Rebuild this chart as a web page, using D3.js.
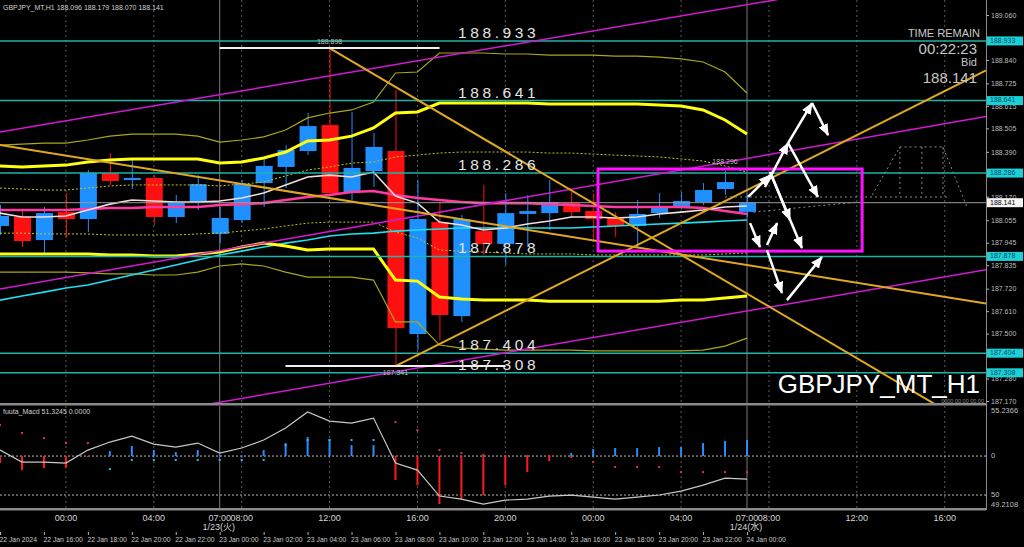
<!DOCTYPE html>
<html><head><meta charset="utf-8">
<script src="https://cdn.jsdelivr.net/npm/d3@7/dist/d3.min.js"></script>
<style>
html,body{margin:0;padding:0;background:#000;overflow:hidden;}
svg{display:block;}
text{font-family:"Liberation Sans","DejaVu Sans","Noto Sans CJK JP",sans-serif;}
</style></head><body>
<svg id="chart" width="1024" height="547"></svg>
<script>
// ---------------- DATA ----------------
const candleTimes = ["2024-01-22 14:00","2024-01-22 15:00","2024-01-22 16:00","2024-01-22 17:00","2024-01-22 18:00","2024-01-22 19:00","2024-01-22 20:00","2024-01-22 21:00","2024-01-22 22:00","2024-01-22 23:00",
"2024-01-23 00:00","2024-01-23 01:00","2024-01-23 02:00","2024-01-23 03:00","2024-01-23 04:00","2024-01-23 05:00","2024-01-23 06:00","2024-01-23 07:00","2024-01-23 08:00","2024-01-23 09:00","2024-01-23 10:00","2024-01-23 11:00",
"2024-01-23 12:00","2024-01-23 13:00","2024-01-23 14:00","2024-01-23 15:00","2024-01-23 16:00","2024-01-23 17:00","2024-01-23 18:00","2024-01-23 19:00","2024-01-23 20:00","2024-01-23 21:00","2024-01-23 22:00","2024-01-23 23:00","2024-01-24 00:00"];
const openP  = [188.027,188.071,187.958,188.095,188.061,188.286,188.252,188.262,188.071,188.144,187.988,188.056,188.237,188.316,188.394,188.521,188.188,188.296,188.394,187.498,188.046,187.586,188.002,187.939,188.086,188.090,188.139,188.100,188.066,188.027,188.090,188.120,188.144,188.208,188.096];
const highP  = [188.130,188.110,188.120,188.188,188.301,188.384,188.350,188.276,188.179,188.276,188.120,188.252,188.365,188.423,188.580,188.898,188.585,188.482,188.693,188.252,188.144,188.081,188.228,188.188,188.179,188.252,188.193,188.188,188.095,188.154,188.188,188.193,188.237,188.296,188.179];
const lowP   = [187.983,187.924,187.895,187.968,187.997,188.228,188.208,188.032,188.041,188.105,187.943,188.041,188.120,188.213,188.374,188.179,188.154,188.218,187.341,187.420,187.468,187.557,187.885,187.836,187.924,188.007,188.066,187.958,187.973,187.924,188.066,188.110,188.130,188.179,188.070];
const closeP = [188.076,187.953,188.090,188.061,188.286,188.247,188.262,188.071,188.144,188.232,188.066,188.232,188.321,188.399,188.516,188.188,188.311,188.414,187.527,188.061,187.591,188.061,187.939,188.090,188.100,188.144,188.095,188.061,188.027,188.086,188.120,188.149,188.203,188.242,188.141];

const bbUpper2 = [188.321,188.316,188.321,188.325,188.340,188.350,188.355,188.355,188.355,188.355,188.335,188.340,188.360,188.389,188.443,188.448,188.467,188.507,188.580,188.585,188.629,188.629,188.629,188.629,188.629,188.624,188.624,188.624,188.624,188.624,188.619,188.614,188.595,188.546,188.477];
const bbLower2 = [187.890,187.890,187.890,187.890,187.890,187.885,187.885,187.880,187.880,187.890,187.899,187.924,187.943,187.929,187.909,187.914,187.914,187.914,187.762,187.757,187.679,187.669,187.664,187.664,187.664,187.659,187.659,187.659,187.659,187.659,187.659,187.664,187.664,187.674,187.684];
const bbUpper3 = [188.423,188.428,188.433,188.433,188.448,188.467,188.477,188.477,188.477,188.467,188.438,188.448,188.463,188.497,188.556,188.580,188.595,188.634,188.776,188.781,188.874,188.874,188.874,188.869,188.869,188.864,188.864,188.864,188.859,188.859,188.854,188.845,188.830,188.781,188.678];
const bbLower3 = [187.801,187.801,187.801,187.801,187.797,187.792,187.792,187.787,187.787,187.801,187.831,187.841,187.831,187.801,187.777,187.777,187.777,187.762,187.557,187.557,187.444,187.429,187.424,187.419,187.419,187.419,187.419,187.415,187.415,187.415,187.415,187.415,187.419,187.439,187.478];
const bbUpper1 = [188.213,188.208,188.203,188.203,188.213,188.223,188.228,188.228,188.228,188.228,188.223,188.232,188.242,188.272,188.301,188.316,188.335,188.340,188.365,188.374,188.384,188.389,188.389,188.389,188.389,188.384,188.384,188.379,188.374,188.370,188.365,188.355,188.345,188.321,188.291];
const bbLower1 = [187.992,187.992,187.988,187.988,187.988,187.983,187.983,187.983,187.983,187.988,187.992,188.002,188.012,188.027,188.041,188.046,188.046,188.046,187.997,187.968,187.909,187.904,187.899,187.895,187.890,187.890,187.890,187.885,187.885,187.885,187.885,187.885,187.885,187.890,187.895];
const maFast = [188.090,188.071,188.071,188.076,188.105,188.134,188.154,188.149,188.144,188.144,188.149,188.164,188.188,188.228,188.267,188.276,188.267,188.291,188.174,188.139,188.046,188.032,188.007,188.017,188.037,188.051,188.071,188.071,188.066,188.071,188.086,188.095,188.105,188.120,188.125];
const maMid  = [188.105,188.105,188.105,188.105,188.110,188.115,188.115,188.120,188.120,188.120,188.130,188.134,188.139,188.154,188.169,188.179,188.193,188.198,188.179,188.164,188.154,188.144,188.139,188.139,188.139,188.134,188.130,188.125,188.120,188.120,188.120,188.120,188.115,188.100,188.086];
const maSlow = [187.664,187.684,187.703,187.723,187.738,187.762,187.787,187.811,187.836,187.860,187.885,187.904,187.924,187.943,187.958,187.978,187.988,187.992,188.002,188.007,188.012,188.017,188.017,188.017,188.017,188.017,188.017,188.022,188.027,188.032,188.037,188.041,188.046,188.051,188.056];

const levelPrices = [188.933, 188.641, 188.286, 187.878, 187.404, 187.308];
const bidPrice = 188.141;
const priceTicks = [189.060,188.950,188.840,188.725,188.615,188.505,188.390,188.280,188.170,188.055,187.945,187.835,187.720,187.610,187.500,187.390,187.280,187.170];

// trend lines: [hour index, price] anchors
const goldStart = [[0,188.423],[15,188.898],[18,187.341]];
const goldEnd   = [[33,187.853],[33,187.759],[33,188.149]];
const magStart  = [[0,188.487],[0,187.718],[15,187.257]];
const magEnd    = [[33,189.092],[33,188.339],[33,187.592]];
const boxHours  = [27.22, 39.24];
const boxPrices = [188.306, 187.904];
const arrowFrom = [[34.05,188.169],[34.82,188.218],[35.87,188.433],[36.96,188.629],[35.87,188.433],[35.05,188.291],[35.05,188.291],[34.14,188.041],[34.91,187.934],[34.91,187.909],[35.82,187.664]];
const arrowTo   = [[35.05,188.276],[35.87,188.433],[36.96,188.629],[37.69,188.472],[37.23,188.169],[35.96,188.056],[36.50,187.919],[34.59,187.924],[35.37,188.041],[35.59,187.699],[37.41,187.875]];
const projLines = [
  [[39.7,188.179],[40.96,188.414],[42.92,188.414],[44.01,188.120]],
  [[40.96,188.414],[40.96,188.169]],
  [[41.96,188.414],[41.96,188.169]],
  [[42.92,188.414],[42.92,188.169]],
  [[33.0,188.169],[43.1,188.169]],
  [[34.3,188.095],[39.0,188.144]]
];

// MACD sub window
const macdMax = 55.2366, macdMin = -49.2108;
const macdHist = [-6.9,-13.8,-11.8,-11.8,-0.5,4.9,9.9,5.9,3.9,5.9,1.0,0.5,5.9,12.8,18.7,16.8,10.8,10.8,-23.6,-28.6,-47.3,-42.4,-38.4,-28.6,-15.8,-4.9,3.0,6.9,7.9,7.9,8.9,8.9,12.8,14.8,15.8];
const macdDots = [30.5,22.7,17.7,12.8,12.8,-12.8,-3.9,-3.9,-3.9,-3.9,-3.9,-3.9,-3.9,10.8,15.8,15.8,15.8,15.8,33.5,25.6,5.9,3.0,1.0,0,0,0,-1.0,-5.9,-10.8,-10.8,-10.8,-15.8,-15.8,-15.8,-15.8];
const dotSide  = ["r","r","r","r","r","b","b","b","b","b","b","b","b","b","b","b","b","b","r","r","r","r","r","r","r","r","r","r","r","r","r","r","r","r","r"];
const macdLine = [5.9,-5.9,-5.9,-6.9,5.9,13.8,19.7,11.8,8.9,12.8,3.0,7.9,15.8,27.6,43.4,34.5,32.5,37.4,-6.9,-13.8,-39.4,-42.4,-47.3,-43.4,-42.4,-39.4,-38.4,-40.4,-42.4,-40.4,-38.4,-34.5,-28.6,-21.7,-22.7];
const macdLevels = [0, -38.4];
const macdLevelLabels = ["0", "50"];

// time axes
const serverTicks = ["2024-01-22 14:00","2024-01-22 16:00","2024-01-22 18:00","2024-01-22 20:00","2024-01-22 22:00","2024-01-23 00:00","2024-01-23 02:00","2024-01-23 04:00","2024-01-23 06:00","2024-01-23 08:00","2024-01-23 10:00","2024-01-23 12:00","2024-01-23 14:00","2024-01-23 16:00","2024-01-23 18:00","2024-01-23 20:00","2024-01-23 22:00","2024-01-24 00:00"];
const jstTicks  = ["2024-01-22 17:00","2024-01-22 21:00","2024-01-23 00:00","2024-01-23 01:00","2024-01-23 05:00","2024-01-23 09:00","2024-01-23 13:00","2024-01-23 17:00","2024-01-23 21:00","2024-01-24 00:00","2024-01-24 01:00","2024-01-24 05:00","2024-01-24 09:00"];
const jstLabels = ["00:00","04:00","07:00","08:00","12:00","16:00","20:00","00:00","04:00","07:00","08:00","12:00","16:00"];
const dateTicks = ["2024-01-23 00:00","2024-01-24 00:00"];
const dateLabels = ["1/23(火)","1/24(水)"];

// ---------------- DRAW ----------------
const W = 1024, H = 547, PW = 986;
const MAIN_TOP = 0, MAIN_BOT = 403, SUB_TOP = 406, SUB_BOT = 508;
const svg = d3.select("#chart");
svg.append("rect").attr("width", W).attr("height", H).attr("fill", "#000");

const parse = d3.utcParse("%Y-%m-%d %H:%M");
const t0 = parse(candleTimes[0]);
const hr = s => (parse(s) - t0) / 3600000;
const x = d3.scaleLinear().domain([0, 34]).range([0, 747]);
const y = d3.scaleLinear().domain([187.170, 189.060]).range([401, 15]);
const ym = d3.scaleLinear().domain([macdMin, macdMax]).range([506, 400]);
const xMaxIdx = x.invert(PW);

const defs = svg.append("defs");
defs.append("clipPath").attr("id", "clipMain").append("rect").attr("x", 0).attr("y", MAIN_TOP).attr("width", PW).attr("height", MAIN_BOT - MAIN_TOP);
defs.append("clipPath").attr("id", "clipSub").append("rect").attr("x", 0).attr("y", SUB_TOP).attr("width", PW).attr("height", SUB_BOT - SUB_TOP);
defs.append("marker").attr("id", "ah").attr("markerUnits", "userSpaceOnUse")
  .attr("markerWidth", 12).attr("markerHeight", 10).attr("refX", 11).attr("refY", 5).attr("orient", "auto")
  .append("path").attr("d", "M0,0 L12,5 L0,10 Z").attr("fill", "#fff");

const gMain = svg.append("g").attr("clip-path", "url(#clipMain)");
const gSub = svg.append("g").attr("clip-path", "url(#clipSub)");

// vertical grid
const sepIdx = dateTicks.map(hr);
jstTicks.forEach(t => {
  const xi = x(hr(t));
  const solid = sepIdx.includes(hr(t));
  [[gMain, MAIN_TOP, MAIN_BOT], [gSub, SUB_TOP, SUB_BOT]].forEach(([g, a, b]) => {
    g.append("line").attr("x1", xi).attr("x2", xi).attr("y1", a).attr("y2", b)
      .attr("stroke", solid ? "#7a7a7a" : "#5c5c5c").attr("stroke-width", 1)
      .attr("stroke-dasharray", solid ? null : "2,3");
  });
});

// candles
const candles = candleTimes.map((t, i) => ({i, o: openP[i], h: highP[i], l: lowP[i], c: closeP[i]}));
const colUp = "#1e90ff", colDn = "#ff1010";
gMain.selectAll(".wick").data(candles).join("line")
  .attr("x1", d => x(d.i) + 0.5).attr("x2", d => x(d.i) + 0.5)
  .attr("y1", d => y(d.h)).attr("y2", d => y(d.l))
  .attr("stroke", d => d.c >= d.o ? colUp : colDn).attr("stroke-width", 1);
gMain.selectAll(".body").data(candles).join("rect")
  .attr("x", d => x(d.i) - 8).attr("width", 17)
  .attr("y", d => y(Math.max(d.o, d.c)))
  .attr("height", d => Math.max(1.5, y(Math.min(d.o, d.c)) - y(Math.max(d.o, d.c))))
  .attr("fill", d => d.c >= d.o ? colUp : colDn);

// indicator lines
const line = d3.line().x((d, i) => x(i)).y(d => y(d));
function drawSeries(arr, color, w, dash) {
  gMain.append("path").attr("d", line(arr)).attr("fill", "none")
    .attr("stroke", color).attr("stroke-width", w).attr("stroke-dasharray", dash || null);
}
drawSeries(bbUpper3, "#a8a81c", 1.2);
drawSeries(bbLower3, "#a8a81c", 1.2);
drawSeries(bbUpper1, "#c4c41a", 1, "2,2");
drawSeries(bbLower1, "#c4c41a", 1, "2,2");
drawSeries(maSlow, "#20e0f0", 1.6);
drawSeries(maMid, "#ff3aa0", 2.6);
drawSeries(maFast, "#f2dede", 1.6);
drawSeries(bbUpper2, "#ffff10", 3);
drawSeries(bbLower2, "#ffff10", 3);

// bid line
gMain.append("line").attr("x1", 0).attr("x2", PW).attr("y1", y(bidPrice)).attr("y2", y(bidPrice))
  .attr("stroke", "#9a9a9a").attr("stroke-width", 1);

// horizontal levels
gMain.selectAll(".lvl").data(levelPrices).join("line")
  .attr("x1", 0).attr("x2", PW).attr("y1", d => y(d)).attr("y2", d => y(d))
  .attr("stroke", "#1fb5a8").attr("stroke-width", 1.5);

// trend lines
function extend(a, b, from, to) {
  const s = (b[1] - a[1]) / (b[0] - a[0]);
  return [[from, a[1] + s * (from - a[0])], [to, a[1] + s * (to - a[0])]];
}
const seg = d3.line().x(d => x(d[0])).y(d => y(d[1]));
magStart.forEach((a, k) => {
  gMain.append("path").attr("d", seg(extend(a, magEnd[k], x.invert(0), xMaxIdx)))
    .attr("stroke", "#d21ad2").attr("stroke-width", 1.5).attr("fill", "none");
});
goldStart.forEach((a, k) => {
  gMain.append("path").attr("d", seg(extend(a, goldEnd[k], a[0], xMaxIdx)))
    .attr("stroke", "#e0a820").attr("stroke-width", 2).attr("fill", "none");
});

// projection (dotted grey)
projLines.forEach(p => {
  gMain.append("path").attr("d", seg(p)).attr("fill", "none")
    .attr("stroke", "#8a8a8a").attr("stroke-width", 1).attr("stroke-dasharray", "2,3");
});

// rectangle
gMain.append("rect")
  .attr("x", x(boxHours[0])).attr("y", y(boxPrices[0]))
  .attr("width", x(boxHours[1]) - x(boxHours[0])).attr("height", y(boxPrices[1]) - y(boxPrices[0]))
  .attr("fill", "none").attr("stroke", "#ff10ff").attr("stroke-width", 3);

// arrows
arrowFrom.forEach((a, k) => {
  const b = arrowTo[k];
  gMain.append("line").attr("x1", x(a[0])).attr("y1", y(a[1])).attr("x2", x(b[0])).attr("y2", y(b[1]))
    .attr("stroke", "#fff").attr("stroke-width", 2.5).attr("marker-end", "url(#ah)");
});

// high / low markers
const iHigh = highP.indexOf(d3.max(highP)), iLow = lowP.indexOf(d3.min(lowP));
[[iHigh, highP[iHigh], -4], [iLow, lowP[iLow], 7]].forEach(([i, p, dy]) => {
  gMain.append("line").attr("x1", x(i) - 110).attr("x2", x(i) + 110).attr("y1", y(p)).attr("y2", y(p))
    .attr("stroke", "#f0f0f0").attr("stroke-width", 2);
  gMain.append("text").attr("x", x(i)).attr("y", y(p) + dy).attr("text-anchor", "middle")
    .attr("dominant-baseline", dy < 0 ? "auto" : "middle")
    .attr("fill", "#bdbdbd").style("font-size", "7px").text(p.toFixed(3));
});
gMain.append("text").attr("x", x(33)).attr("y", y(highP[33]) - 7).attr("text-anchor", "middle")
  .attr("fill", "#bdbdbd").style("font-size", "7px").text(highP[33].toFixed(3));

// level labels (big)
svg.selectAll(".lvlt").data(levelPrices).join("text")
  .attr("x", 458).attr("y", d => y(d) - 3)
  .attr("fill", "#e4e4e4").style("font-size", "15.5px").style("letter-spacing", "3.6px")
  .text(d => d.toFixed(3));

// header texts
svg.append("text").attr("x", 3).attr("y", 10).attr("fill", "#d0d0d0").style("font-size", "7px")
  .text("GBPJPY_MT,H1  " + [openP[34], highP[34], lowP[34], closeP[34]].map(v => v.toFixed(3)).join(" "));
const tr = svg.append("g").attr("text-anchor", "end").attr("fill", "#c8c8c8");
tr.append("text").attr("x", 980).attr("y", 37).style("font-size", "11px").text("TIME REMAIN");
tr.append("text").attr("x", 977).attr("y", 54).style("font-size", "15px").text("00:22:23");
tr.append("text").attr("x", 977).attr("y", 66).style("font-size", "11px").text("Bid");
tr.append("text").attr("x", 977).attr("y", 83).style("font-size", "15px").text(bidPrice.toFixed(3));
svg.append("text").attr("x", 980).attr("y", 393).attr("text-anchor", "end").attr("fill", "#ffffff")
  .style("font-size", "26px").text("GBPJPY_MT_H1");
svg.append("text").attr("x", 984).attr("y", 402.5).attr("text-anchor", "end").attr("fill", "#8c8c8c")
  .style("font-size", "5.5px").text("0000.00.00 00.00");

// MACD
gSub.selectAll(".lv").data(macdLevels).join("line")
  .attr("x1", 0).attr("x2", PW).attr("y1", d => ym(d)).attr("y2", d => ym(d))
  .attr("stroke", "#bdbdbd").attr("stroke-width", 1).attr("stroke-dasharray", "2,2");
gSub.selectAll(".hb").data(macdHist).join("rect")
  .attr("x", (d, i) => x(i) - 1).attr("width", 2)
  .attr("y", d => Math.min(ym(d), ym(0))).attr("height", d => Math.max(1, Math.abs(ym(d) - ym(0))))
  .attr("fill", d => d >= 0 ? "#2a8cff" : "#ff1a1a");
gSub.selectAll(".dt").data(macdDots).join("rect")
  .attr("x", (d, i) => x(i) - 1).attr("y", d => ym(d) - 1).attr("width", 2).attr("height", 2)
  .attr("fill", (d, i) => dotSide[i] === "r" ? "#e0305a" : "#28b8e8");
gSub.append("path").attr("d", d3.line().x((d, i) => x(i)).y(d => ym(d))(macdLine))
  .attr("fill", "none").attr("stroke", "#c8c8c8").attr("stroke-width", 1.2);
svg.append("text").attr("x", 3).attr("y", 414).attr("fill", "#d0d0d0").style("font-size", "7px")
  .text("fuuta_Macd 51.3245  0.0000");

// panel frames
svg.append("rect").attr("x", 0).attr("y", 403).attr("width", PW).attr("height", 2.5).attr("fill", "#8a8a8a");
svg.append("rect").attr("x", 0).attr("y", 508).attr("width", PW).attr("height", 2.5).attr("fill", "#8a8a8a");
svg.append("line").attr("x1", PW + 0.5).attr("x2", PW + 0.5).attr("y1", 0).attr("y2", 510).attr("stroke", "#8a8a8a");

// right price axis (labels hidden where a level tag sits right on top of them)
const tagPrices = levelPrices.concat([bidPrice]);
const visibleTicks = priceTicks.filter(p => tagPrices.every(q => Math.abs(y(p) - y(q)) > 4.5));
const ga = svg.append("g").attr("transform", `translate(${PW},0)`)
  .call(d3.axisRight(y).tickValues(visibleTicks).tickFormat(d3.format(".3f")).tickSize(3));
ga.select(".domain").remove();
ga.selectAll("line").attr("stroke", "#b0b0b0");
ga.selectAll("text").attr("fill", "#bdbdbd").attr("x", 5).style("font-size", "7px").style("font-family", "Liberation Sans");

// right axis tags
const tags = svg.append("g");
levelPrices.forEach(p => {
  tags.append("rect").attr("x", PW + 1).attr("y", y(p) - 4.5).attr("width", 36).attr("height", 9).attr("fill", "#19d2d8");
  tags.append("text").attr("x", PW + 4).attr("y", y(p)).attr("dominant-baseline", "middle")
    .attr("fill", "#0c4660").style("font-size", "7px").text(p.toFixed(3));
});
tags.append("rect").attr("x", PW + 1).attr("y", y(bidPrice) - 4.5).attr("width", 36).attr("height", 9).attr("fill", "#f4f4f4");
tags.append("text").attr("x", PW + 4).attr("y", y(bidPrice)).attr("dominant-baseline", "middle")
  .attr("fill", "#000").style("font-size", "7px").text(bidPrice.toFixed(3));

// MACD axis labels
const ml = svg.append("g").attr("fill", "#bdbdbd").style("font-size", "7.5px");
ml.append("text").attr("x", PW + 5).attr("y", ym(macdMax) + 13).text(macdMax.toFixed(4));
ml.append("text").attr("x", PW + 5).attr("y", ym(macdMin) + 1).text(Math.abs(macdMin).toFixed(4));
macdLevels.forEach((v, k) => {
  ml.append("text").attr("x", PW + 5).attr("y", ym(v)).attr("dominant-baseline", "middle").text(macdLevelLabels[k]);
});

// bottom axes
const fmt = d3.utcFormat("%d %b %H:%M");
const gx = svg.append("g").attr("transform", "translate(0,532)")
  .call(d3.axisBottom(x).tickValues(serverTicks.map(hr))
    .tickFormat((d, i) => i === 0 ? "22 Jan 2024" : fmt(parse(serverTicks[i]))).tickSize(3));
gx.select(".domain").remove();
gx.selectAll("line").attr("stroke", "#b0b0b0");
gx.selectAll("text").attr("text-anchor", "start").attr("x", -1).attr("y", 5)
  .attr("fill", "#c8c8c8").style("font-size", "6.8px").style("font-family", "Liberation Sans");

svg.selectAll(".jst").data(jstTicks).join("text")
  .attr("x", d => x(hr(d))).attr("y", 521).attr("text-anchor", "middle")
  .attr("fill", "#d4d4d4").style("font-size", "9px").text((d, i) => jstLabels[i]);
svg.selectAll(".dte").data(dateTicks).join("text")
  .attr("x", d => x(hr(d)) - 1).attr("y", 530).attr("text-anchor", "middle")
  .attr("fill", "#d4d4d4").style("font-size", "9px").text((d, i) => dateLabels[i]);
</script>
</body></html>
